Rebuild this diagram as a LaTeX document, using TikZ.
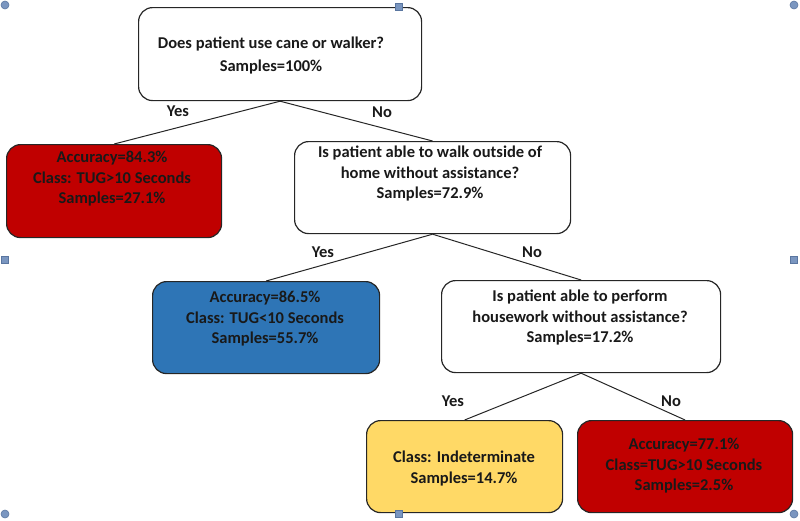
\documentclass[tikz,border=0pt]{standalone}
\usepackage{fontspec}
\setmainfont{Carlito}
\definecolor{redbox}{HTML}{C00000}
\definecolor{bluebox}{HTML}{2E75B6}
\definecolor{yellowbox}{HTML}{FFD966}
\definecolor{handle}{HTML}{7A96C0}
\definecolor{handleline}{HTML}{5A76A0}
\begin{document}
\begin{tikzpicture}[x=1pt,y=-1pt,
  box/.style={draw=black!85, line width=1.2pt, rounded corners=14pt, anchor=north west, inner sep=0pt},
  txt/.style={font=\fontsize{16.5}{20.5}\selectfont\bfseries, align=center, text=black!90, inner sep=0pt, anchor=north},
  edge/.style={draw=black!85, line width=1pt},
  lab/.style={font=\fontsize{16.5}{18}\selectfont\bfseries, text=black!90, inner sep=0pt},
  hsq/.style={draw=handleline, fill=handle, minimum size=7pt, inner sep=0pt, line width=0.6pt},
  hci/.style={circle, draw=handleline, fill=handle, minimum size=8pt, inner sep=0pt, line width=0.6pt}]
\useasboundingbox (0,0) rectangle (800,520);
% boxes
\node[box, fill=white, minimum width=283pt, minimum height=93pt] (root) at (138,7) {};
\node[box, fill=redbox, minimum width=215pt, minimum height=93pt] (left) at (6,144) {};
\node[box, fill=white, minimum width=276pt, minimum height=92pt] (q2) at (294,141) {};
\node[box, fill=bluebox, minimum width=227pt, minimum height=92pt] (blue) at (152,281) {};
\node[box, fill=white, minimum width=279pt, minimum height=92pt] (q3) at (441,280) {};
\node[box, fill=yellowbox, minimum width=196pt, minimum height=92pt] (yel) at (366,420) {};
\node[box, fill=redbox, minimum width=215pt, minimum height=92pt] (red2) at (577,420) {};
% texts
\node[txt, font=\fontsize{16.5}{23}\selectfont\bfseries] (troot) at (271,37) {Does patient use cane or walker?\\Samples=100\%};
\node[txt] (tleft) at (112,151) {Accuracy=84.3\%\\Class: TUG>10 Seconds\\Samples=27.1\%};
\node[txt] (tq2) at (430,146) {Is patient able to walk outside of\\home without assistance?\\Samples=72.9\%};
\node[txt] (tblue) at (265,291) {Accuracy=86.5\%\\Class: TUG<10 Seconds\\Samples=55.7\%};
\node[txt] (tq3) at (580,290) {Is patient able to perform\\housework without assistance?\\Samples=17.2\%};
\node[txt] (tyel) at (464,451) {Class: Indeterminate\\Samples=14.7\%};
\node[txt] (tred2) at (684,438) {Accuracy=77.1\%\\Class=TUG>10 Seconds\\Samples=2.5\%};
% connectors
\draw[edge] (root.south) -- (left.north);
\draw[edge] (root.south) -- (q2.north);
\draw[edge] (q2.south) -- (blue.north);
\draw[edge] (q2.south) -- (q3.north);
\draw[edge] (q3.south) -- (yel.north);
\draw[edge] (q3.south) -- (red2.north);
% edge labels
\node[lab] (y1) at (178,111) {Yes};
\node[lab] (n1) at (382,112) {No};
\node[lab] (y2) at (323,252) {Yes};
\node[lab] (n2) at (532,252) {No};
\node[lab] (y3) at (453,401) {Yes};
\node[lab] (n3) at (671,401) {No};
% selection handles
\node[hci] (c1) at (5,5) {};
\node[hci] (c2) at (794,5) {};
\node[hci] (c3) at (5,514) {};
\node[hci] (c4) at (794,514) {};
\node[hsq] (s1) at (399,7) {};
\node[hsq] (s2) at (5,260) {};
\node[hsq] (s3) at (794,260) {};
\node[hsq] (s4) at (399,514) {};
\end{tikzpicture}
\end{document}
